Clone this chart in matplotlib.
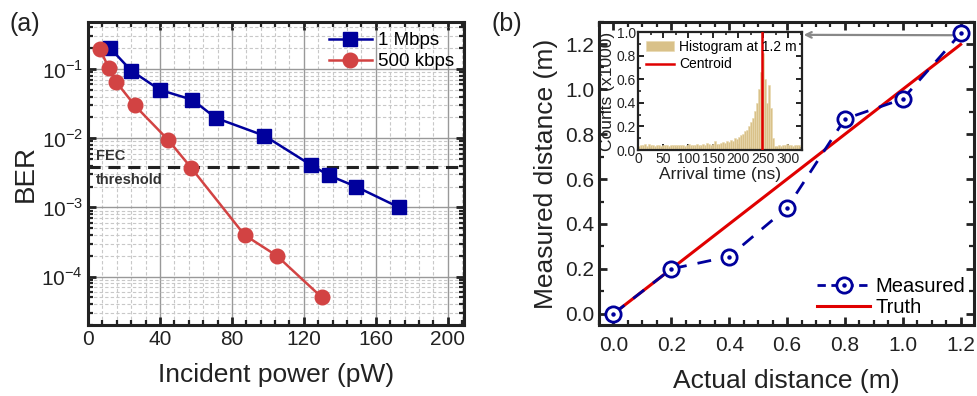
import numpy as np
import matplotlib
matplotlib.use("Agg")
import matplotlib.pyplot as plt
from matplotlib.ticker import MultipleLocator, LogLocator, NullFormatter, FixedLocator, FormatStrFormatter
from matplotlib.lines import Line2D

plt.rcParams['font.family'] = ['Liberation Sans', 'DejaVu Sans']
plt.rcParams['mathtext.fontset'] = 'custom'
plt.rcParams['mathtext.rm'] = 'Liberation Sans'

# ---------------- data ----------------
power_1M = [12, 24, 40, 58, 71, 98, 124, 134, 149, 173]
ber_1M = [0.205, 0.095, 0.05, 0.036, 0.0197, 0.0109, 0.0041, 0.0029, 0.002, 0.001]
power_500k = [6.5, 11.5, 15.5, 26, 44.5, 57.5, 87, 105, 130]
ber_500k = [0.196, 0.105, 0.066, 0.0298, 0.0095, 0.0037, 0.0004, 0.0002, 0.00005]
fec_threshold = 0.0038

actual_dist = [0.0, 0.2, 0.4, 0.6, 0.8, 1.0, 1.2]
measured_dist = [0.0, 0.2, 0.255, 0.472, 0.868, 0.957, 1.249]
truth_x = [0.0, 1.2]
truth_y = [0.0, 1.2]

hist_left = list(range(0, 324, 4))
hist_counts = [
    0.03, 0.045, 0.04, 0.05, 0.035, 0.055, 0.04, 0.045, 0.035, 0.04,   # 0-36
    0.045, 0.035, 0.04, 0.045, 0.04, 0.035, 0.045, 0.04, 0.04, 0.045,  # 40-76
    0.04, 0.045, 0.04, 0.035, 0.045, 0.05, 0.04, 0.045, 0.04, 0.05,    # 80-116
    0.045, 0.04, 0.05, 0.045, 0.06, 0.05, 0.045, 0.05, 0.075, 0.05,    # 120-156
    0.055, 0.06, 0.07, 0.06, 0.075, 0.07, 0.085, 0.08, 0.1, 0.09,      # 160-196
    0.11, 0.125, 0.14, 0.16, 0.17, 0.2, 0.24, 0.27, 0.33, 0.4,         # 200-236
    0.52, 0.66, 0.82, 0.6, 0.4, 0.55, 0.36, 0.1, 0.035, 0.03,          # 240-276
    0.04, 0.035, 0.045, 0.04, 0.05, 0.04, 0.045, 0.035, 0.04, 0.045,   # 280-316
    0.04,
]
centroid = 247

blue = '#00009c'
red_a = '#d24343'
red_b = '#e00000'
frame_c = '#222222'

fig = plt.figure(figsize=(9.77, 3.96), dpi=100)

def style_frame(ax):
    for s in ax.spines.values():
        s.set_linewidth(2.2)
        s.set_color(frame_c)
    ax.tick_params(which='both', direction='in', top=True, right=True,
                   colors=frame_c, labelcolor='#222222')
    ax.tick_params(which='major', length=6, width=2)
    ax.tick_params(which='minor', length=3.5, width=1.6)

# ---------------- panel (a) ----------------
ax1 = fig.add_axes([0.0901, 0.1793, 0.3848, 0.7652])
ax1.set_yscale('log')
ax1.set_xlim(0, 209)
ax1.set_ylim(2e-5, 0.48)
ax1.xaxis.set_major_locator(MultipleLocator(40))
ax1.xaxis.set_minor_locator(MultipleLocator(8))
ax1.yaxis.set_major_locator(FixedLocator([1e-4, 1e-3, 1e-2, 1e-1]))
ax1.yaxis.set_minor_locator(LogLocator(base=10, subs=np.arange(2, 10), numticks=20))
ax1.yaxis.set_minor_formatter(NullFormatter())
ax1.set_yticklabels([r'$10^{-4}$', r'$10^{-3}$', r'$10^{-2}$', r'$10^{-1}$'])
ax1.grid(which='major', color='#999999', lw=1.0, ls='-')
ax1.grid(which='minor', color='#c8c8c8', lw=0.8, ls=(0, (3, 2)))
ax1.set_axisbelow(True)
style_frame(ax1)
ax1.tick_params(labelsize=15)

ax1.axhline(fec_threshold, color='#222222', lw=2.2, ls=(0, (4, 2.5)), zorder=2)
ax1.text(4.5, 0.0048, 'FEC', fontsize=10.5, fontweight='bold', color='#333333', va='baseline')
ax1.text(4.5, 0.0032, 'threshold', fontsize=10.5, fontweight='bold', color='#333333', va='top')

ax1.plot(power_1M, ber_1M, '-s', color=blue, lw=1.8, ms=10, label='1 Mbps', zorder=3)
ax1.plot(power_500k, ber_500k, '-o', color=red_a, lw=1.8, ms=10.5, label='500 kbps', zorder=3)
ax1.legend(loc='upper right', frameon=False, fontsize=13.5, handlelength=2.3,
           handletextpad=0.3, borderaxespad=0.2, labelspacing=0.2, borderpad=0.35)
ax1.set_xlabel('Incident power (pW)', fontsize=19, color='#222222', labelpad=10)
ax1.set_ylabel('BER', fontsize=20, color='#222222', labelpad=2)
fig.text(0.010, 0.94, '(a)', fontsize=18, color='#222222', va='center')

# ---------------- panel (b) ----------------
ax2 = fig.add_axes([0.6131, 0.1793, 0.3835, 0.7652])
ax2.set_xlim(-0.05, 1.245)
ax2.set_ylim(-0.05, 1.3)
ax2.xaxis.set_major_locator(MultipleLocator(0.2))
ax2.xaxis.set_minor_locator(MultipleLocator(0.05))
ax2.yaxis.set_major_locator(MultipleLocator(0.2))
ax2.yaxis.set_minor_locator(MultipleLocator(0.1))
ax2.xaxis.set_major_formatter(FormatStrFormatter('%.1f'))
ax2.yaxis.set_major_formatter(FormatStrFormatter('%.1f'))
style_frame(ax2)
ax2.tick_params(labelsize=15)
ax2.tick_params(axis='x', pad=8)

ax2.plot(truth_x, truth_y, '-', color=red_b, lw=2.2, zorder=3)
ax2.plot(actual_dist, measured_dist, color=blue, lw=2.0, dashes=(5, 4),
         marker='o', ms=11, mfc='white', mec=blue, mew=2.0, zorder=4)
ax2.plot(actual_dist, measured_dist, ls='none', marker='o', ms=2.2, color=blue, zorder=5)

h_meas = (Line2D([], [], color=blue, lw=2.0, dashes=(3, 2), marker='o', ms=11,
                 mfc='white', mec=blue, mew=2.0),
          Line2D([], [], ls='none', marker='o', ms=2.2, color=blue))
h_truth = Line2D([], [], color=red_b, lw=2.2)
ax2.legend([h_meas, h_truth], ['Measured', 'Truth'], loc='lower right', frameon=False,
           fontsize=14.5, handlelength=2.6, handletextpad=0.3, borderaxespad=0.1,
           labelspacing=0.1, borderpad=0.3)
ax2.set_xlabel('Actual distance (m)', fontsize=19, color='#222222', labelpad=10)
ax2.set_ylabel('Measured distance (m)', fontsize=19, color='#222222', labelpad=5)
fig.text(0.503, 0.94, '(b)', fontsize=18, color='#222222', va='center')

# inset
ax3 = fig.add_axes([0.6533, 0.6212, 0.1672, 0.2972])
ax3.bar(hist_left, hist_counts, width=4, align='edge', color='#d9c189',
        edgecolor='#e8d8ae', linewidth=0.4, label='Histogram at 1.2 m', zorder=2)
ax3.axvline(centroid, color=red_b, lw=1.8, label='Centroid', zorder=3)
ax3.set_xlim(0, 327)
ax3.set_ylim(0, 1.0)
ax3.xaxis.set_major_locator(MultipleLocator(50))
ax3.xaxis.set_minor_locator(MultipleLocator(25))
ax3.yaxis.set_major_locator(MultipleLocator(0.2))
ax3.yaxis.set_minor_locator(MultipleLocator(0.1))
ax3.yaxis.set_major_formatter(FormatStrFormatter('%.1f'))
for s in ax3.spines.values():
    s.set_linewidth(1.6)
    s.set_color(frame_c)
ax3.tick_params(which='both', direction='in', top=True, right=True, colors=frame_c,
                labelcolor='#222222', labelsize=10, pad=1.5)
ax3.tick_params(which='major', length=4, width=1.4)
ax3.tick_params(which='minor', length=2.5, width=1.2)
h_hist, l_hist = ax3.get_legend_handles_labels()
order = [l_hist.index('Histogram at 1.2 m'), l_hist.index('Centroid')]
ax3.legend([h_hist[i] for i in order], [l_hist[i] for i in order],
           loc='upper left', frameon=False, fontsize=10, handlelength=2.0,
           handletextpad=0.4, borderaxespad=0.15, labelspacing=0.25)
ax3.set_xlabel('Arrival time (ns)', fontsize=12.5, color='#222222', labelpad=1)
ax3.set_ylabel('Counts (x1000)', fontsize=12.5, color='#222222', labelpad=1)

# arrow from the 1.2 m point to the inset
ax2.annotate('', xy=(0.8226, 0.912), xycoords='figure fraction',
             xytext=(1.172, 1.241), textcoords='data',
             arrowprops=dict(arrowstyle='->', color='#888888', lw=1.6,
                             shrinkA=0, shrinkB=0))

fig.savefig('out.png', dpi=100)
